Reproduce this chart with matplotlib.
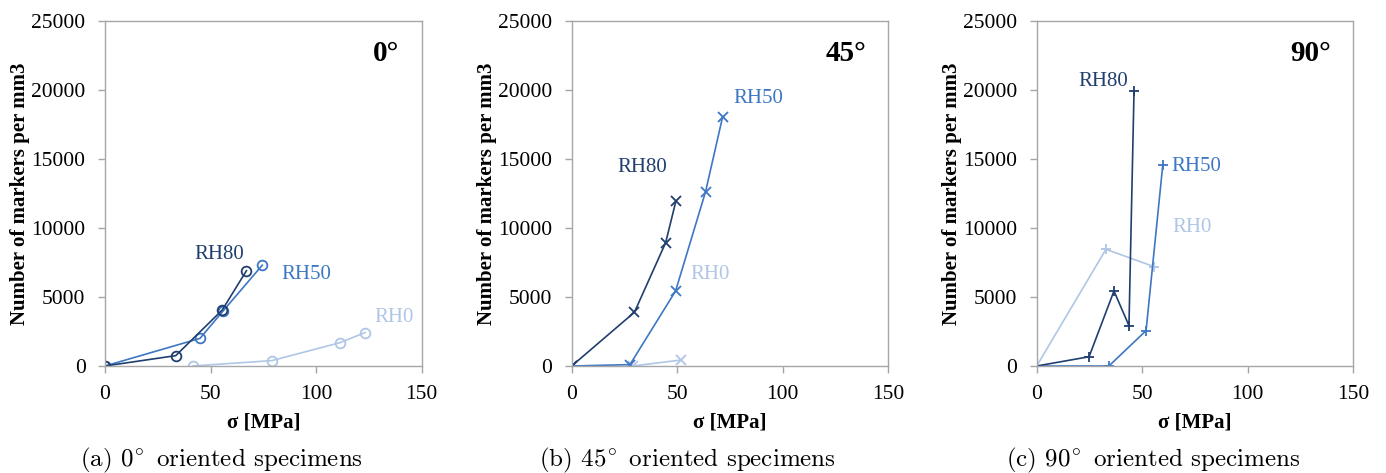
import matplotlib
matplotlib.use("Agg")
import matplotlib.pyplot as plt

plt.rcParams['mathtext.fontset'] = 'cm'

# ---- data ----
# (a) 0 deg
a_rh80_x = [0, 33.5, 55.5, 67]
a_rh80_y = [0, 750, 4050, 6900]
a_rh50_x = [0, 45, 56, 74.5]
a_rh50_y = [0, 2000, 4000, 7300]
a_rh0_x = [41.5, 79, 111.3, 123.2]
a_rh0_y = [0, 390, 1690, 2420]

# (b) 45 deg
b_rh80_x = [0, 29.7, 44.5, 49.4]
b_rh80_y = [0, 3890, 8930, 11970]
b_rh50_x = [0, 27.6, 49.2, 63.4, 71.5]
b_rh50_y = [0, 100, 5430, 12620, 18050]
b_rh0_x = [29, 51.6]
b_rh0_y = [0, 430]

# (c) 90 deg
c_rh80_x = [0, 24.8, 36.6, 43.7, 46.1]
c_rh80_y = [0, 670, 5430, 2920, 19910]
c_rh50_x = [0, 34.2, 51.8, 59.7]
c_rh50_y = [0, 0, 2560, 14530]
c_rh0_x = [0, 32.8, 55.6]
c_rh0_y = [0, 8450, 7190]

panel_titles = ["0°", "45°", "90°"]
captions = [r"(a) $0^{\!\circ}$ oriented specimens",
            r"(b) $45^{\!\circ}$ oriented specimens",
            r"(c) $90^{\!\circ}$ oriented specimens"]
xticks = [0, 50, 100, 150]
yticks = [0, 5000, 10000, 15000, 20000, 25000]

dark = "#213f6e"
mid = "#3d77c4"
light = "#afc6e6"
grey = "#a6a6a6"
serif = ["Liberation Serif", "DejaVu Serif"]

fig = plt.figure(figsize=(13.86, 4.73), dpi=100)

lefts = [105 / 1386, 571.7 / 1386, 1036.7 / 1386]
w = 316.7 / 1386
bottom = 1 - 366 / 473
h = 345.3 / 473

panels = [
    ((a_rh80_x, a_rh80_y), (a_rh50_x, a_rh50_y), (a_rh0_x, a_rh0_y), "o"),
    ((b_rh80_x, b_rh80_y), (b_rh50_x, b_rh50_y), (b_rh0_x, b_rh0_y), "x"),
    ((c_rh80_x, c_rh80_y), (c_rh50_x, c_rh50_y), (c_rh0_x, c_rh0_y), "+"),
]

# label positions (data coords) for each panel: RH80, RH50, RH0
label_pos = [
    [(54, 8100), (95.5, 6600), (137, 3500)],
    [(33.5, 14400), (88.5, 19400), (65.5, 6600)],
    [(31.5, 20580), (75.5, 14430), (73.5, 10040)],
]

for i, (rh80, rh50, rh0, mk) in enumerate(panels):
    ax = fig.add_axes([lefts[i], bottom, w, h])
    mkw = dict(marker=mk, markersize=7, markerfacecolor="none",
               markeredgewidth=1.3, linewidth=1.2)
    ax.plot(rh0[0], rh0[1], color=light, **mkw)
    ax.plot(rh50[0], rh50[1], color=mid, **mkw)
    ax.plot(rh80[0], rh80[1], color=dark, **mkw)

    ax.set_xlim(0, 150)
    ax.set_ylim(0, 25000)
    ax.set_xticks(xticks)
    ax.set_yticks(yticks)
    for s in ax.spines.values():
        s.set_color(grey)
        s.set_linewidth(1.0)
    ax.tick_params(colors=grey, length=5, width=1.0, labelcolor="black",
                   labelsize=15.5)
    ax.tick_params(axis="y", pad=9)
    ax.tick_params(axis="x", pad=9)
    for lab in ax.get_xticklabels() + ax.get_yticklabels():
        lab.set_family(serif)
    ax.set_xlabel("σ [MPa]", family=serif, fontsize=15, fontweight="bold",
                  labelpad=6)
    ax.set_ylabel("Number of markers per mm3", family=serif, fontsize=15,
                  fontweight="bold", labelpad=1)

    for (lx, ly), txt, col in zip(label_pos[i], ["RH80", "RH50", "RH0"],
                                  [dark, mid, light]):
        ax.text(lx, ly, txt, color=col, family=serif, fontsize=15,
                ha="center", va="center")
    ax.text(0.93, 0.905, panel_titles[i], transform=ax.transAxes,
            family=serif, fontsize=21, fontweight="bold", ha="right",
            va="center")

cap_x = [221 / 1386, 687.5 / 1386, 1153.5 / 1386]
for cx, cap in zip(cap_x, captions):
    fig.text(cx, 1 - 460 / 473, cap, family=["cmr10", "DejaVu Serif"],
             fontsize=18, ha="center", va="center")

fig.savefig("out.png", dpi=100)
